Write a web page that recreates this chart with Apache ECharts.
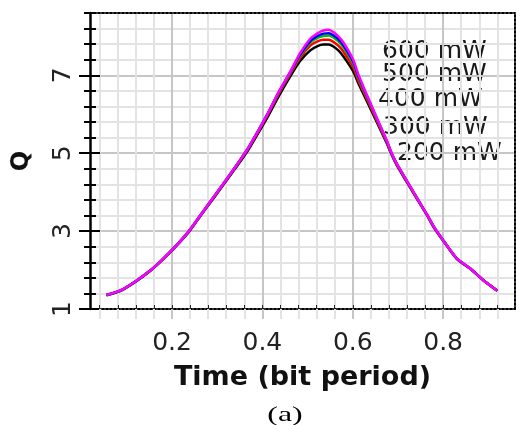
<!DOCTYPE html>
<html>
<head>
<meta charset="utf-8">
<script src="https://cdn.jsdelivr.net/npm/echarts@6/dist/echarts.min.js"></script>
<style>
html, body { margin: 0; padding: 0; background: #fff; }
#chart { width: 520px; height: 425px; }
</style>
</head>
<body>
<div id="chart"></div>
<script>
// time axis (bit period) and Q for each launch power
var time = [0.055, 0.085, 0.118, 0.151, 0.177, 0.207, 0.236, 0.258, 0.273, 0.295,
    0.325, 0.347, 0.369, 0.391, 0.413, 0.435, 0.461, 0.483, 0.506, 0.522,
    0.535, 0.547, 0.557, 0.568, 0.579, 0.601, 0.613, 0.631, 0.653, 0.675,
    0.686, 0.697, 0.720, 0.742, 0.764, 0.779, 0.804, 0.830, 0.860, 0.889, 0.920]
var q200 = [1.35, 1.46, 1.69, 1.97, 2.24, 2.59, 2.96, 3.31, 3.55, 3.89,
    4.37, 4.72, 5.09, 5.52, 5.96, 6.44, 6.96, 7.36, 7.64, 7.75,
    7.79, 7.79, 7.74, 7.64, 7.49, 7.10, 6.78, 6.34, 5.80, 5.26,
    4.96, 4.70, 4.25, 3.83, 3.41, 3.10, 2.69, 2.29, 2.03, 1.74, 1.47]
var q300 = [1.36, 1.47, 1.70, 1.98, 2.25, 2.60, 2.97, 3.32, 3.56, 3.91,
    4.39, 4.75, 5.12, 5.56, 6.01, 6.50, 7.02, 7.44, 7.76, 7.87,
    7.91, 7.91, 7.86, 7.76, 7.61, 7.20, 6.84, 6.40, 5.84, 5.28,
    4.98, 4.72, 4.27, 3.84, 3.42, 3.11, 2.70, 2.30, 2.04, 1.74, 1.47]
var q400 = [1.36, 1.47, 1.70, 1.98, 2.25, 2.60, 2.98, 3.33, 3.57, 3.92,
    4.40, 4.76, 5.14, 5.58, 6.04, 6.53, 7.05, 7.49, 7.84, 7.96,
    8.01, 8.02, 7.97, 7.87, 7.72, 7.30, 6.92, 6.45, 5.88, 5.31,
    4.99, 4.73, 4.28, 3.85, 3.43, 3.12, 2.70, 2.30, 2.04, 1.74, 1.47]
var q500 = [1.36, 1.47, 1.70, 1.98, 2.25, 2.60, 2.98, 3.33, 3.57, 3.92,
    4.40, 4.76, 5.14, 5.58, 6.04, 6.54, 7.07, 7.52, 7.88, 8.01,
    8.07, 8.08, 8.03, 7.93, 7.78, 7.35, 6.96, 6.48, 5.90, 5.32,
    5.00, 4.74, 4.28, 3.85, 3.43, 3.12, 2.70, 2.30, 2.04, 1.74, 1.47]
var q600 = [1.36, 1.47, 1.70, 1.98, 2.25, 2.60, 2.98, 3.33, 3.57, 3.92,
    4.40, 4.76, 5.14, 5.58, 6.04, 6.55, 7.08, 7.56, 7.94, 8.08,
    8.15, 8.17, 8.11, 8.00, 7.85, 7.40, 7.00, 6.50, 5.91, 5.33,
    5.00, 4.74, 4.28, 3.85, 3.43, 3.12, 2.70, 2.30, 2.04, 1.74, 1.47]

var powerNames = ['200 mW', '300 mW', '400 mW', '500 mW', '600 mW']
var xTickLabels = [0.2, 0.4, 0.6, 0.8]
var yTickLabels = [1, 3, 5, 7]

var myChart = echarts.init(document.getElementById('chart'))

var xMin = 0.0185, xMax = 0.959
var yMin = 1, yMax = 8.6

// minor grid positions
var xMinor = []
for (var i = 1; i <= 23; i++) {
    xMinor.push(i * 4 / 100)
}
var yMinor = []
for (var j = 0; j <= 19; j++) {
    yMinor.push(Math.round((1 + j * 0.4) * 10) / 10)
}

var lightGrid = '#e3e3e3'
var darkGrid = '#c6c6c6'
var font = 'DejaVu Sans'

var pairs = function(q) {
    return time.map(function(t, k) { return [t, q[k]] })
}

var lineSeries = function(name, q, color) {
    return {
        name: name,
        type: 'line',
        data: pairs(q),
        showSymbol: false,
        smooth: 0.25,
        lineStyle: { color: color, width: 2.5 },
        itemStyle: { color: color }
    }
}

var legendText = function(name, x, y) {
    return {
        type: 'text', x: x, y: y,
        style: { text: name, font: '25px "DejaVu Sans"', fill: '#1a1a1a', verticalAlign: 'middle' }
    }
}

var option = {
    animation: false,
    grid: { left: 90, right: 5, top: 13, bottom: 116, outerBoundsMode: 'none' },
    xAxis: [
        {
            type: 'value', min: xMin, max: xMax, position: 'bottom',
            axisLine: { lineStyle: { color: '#000', width: 2, type: 'dotted' } },
            axisTick: { customValues: xMinor, length: 10, lineStyle: { color: lightGrid, width: 2 } },
            axisLabel: {
                customValues: xTickLabels, margin: 22,
                fontFamily: font, fontSize: 25, color: '#222',
                formatter: function(v) { return v.toFixed(1) }
            },
            splitLine: {
                show: true,
                lineStyle: { color: [lightGrid, lightGrid, lightGrid, lightGrid, darkGrid], width: 2 }
            },
            name: 'Time (bit period)', nameLocation: 'middle', nameGap: 55,
            nameTextStyle: { fontFamily: font, fontWeight: 'bold', fontSize: 27, color: '#111' }
        },
        {
            type: 'value', min: xMin, max: xMax, position: 'bottom',
            axisLine: { show: false },
            axisTick: { customValues: xTickLabels, length: 10, lineStyle: { color: darkGrid, width: 2 } },
            axisLabel: { show: false },
            splitLine: { show: false }
        },
        {
            type: 'value', min: xMin, max: xMax, position: 'bottom',
            axisLine: { show: false },
            axisTick: { customValues: xMinor, inside: true, length: 4, lineStyle: { color: '#222', width: 1 } },
            axisLabel: { show: false },
            splitLine: { show: false }
        },
        {
            type: 'value', min: xMin, max: xMax, position: 'top',
            axisLine: { lineStyle: { color: '#000', width: 2, type: 'dotted' } },
            axisTick: { show: false },
            axisLabel: { show: false },
            splitLine: { show: false }
        }
    ],
    yAxis: [
        {
            type: 'value', min: yMin, max: yMax, position: 'left',
            axisLine: { lineStyle: { color: '#000', width: 2.5 } },
            axisTick: { customValues: yMinor, length: 6, lineStyle: { color: '#000', width: 2 } },
            axisLabel: {
                customValues: yTickLabels, rotate: 90, margin: 14,
                fontFamily: font, fontSize: 25, color: '#222'
            },
            splitLine: {
                show: true,
                lineStyle: { color: [darkGrid, lightGrid, lightGrid, lightGrid, lightGrid], width: 2 }
            },
            name: 'Q', nameLocation: 'middle', nameGap: 56, nameRotate: 90,
            nameTextStyle: { fontFamily: font, fontWeight: 'bold', fontSize: 24, color: '#111' }
        },
        {
            type: 'value', min: yMin, max: yMax, position: 'left',
            axisLine: { show: false },
            axisTick: { customValues: yMinor, inside: true, length: 6, lineStyle: { color: '#000', width: 2 } },
            axisLabel: { show: false },
            splitLine: { show: false }
        },
        {
            type: 'value', min: yMin, max: yMax, position: 'left',
            axisLine: { show: false },
            axisTick: { customValues: yTickLabels, length: 11, lineStyle: { color: '#000', width: 2 } },
            axisLabel: { show: false },
            splitLine: { show: false }
        },
        {
            type: 'value', min: yMin, max: yMax, position: 'left',
            axisLine: { show: false },
            axisTick: { customValues: yTickLabels, inside: true, length: 10, lineStyle: { color: '#000', width: 2 } },
            axisLabel: { show: false },
            splitLine: { show: false }
        },
        {
            type: 'value', min: yMin, max: yMax, position: 'right',
            axisLine: { lineStyle: { color: '#000', width: 2, type: 'dotted' } },
            axisTick: { show: false },
            axisLabel: { show: false },
            splitLine: { show: false }
        }
    ],
    series: [
        lineSeries(powerNames[0], q200, '#000000'),
        lineSeries(powerNames[1], q300, '#ff0000'),
        lineSeries(powerNames[2], q400, '#00c000'),
        lineSeries(powerNames[3], q500, '#0000ff'),
        lineSeries(powerNames[4], q600, '#ff00ff')
    ],
    graphic: [
        legendText(powerNames[4], 382, 51),
        legendText(powerNames[3], 382, 74),
        legendText(powerNames[2], 378, 99),
        legendText(powerNames[1], 383, 127),
        legendText(powerNames[0], 397, 153),
        {
            type: 'text', x: 285, y: 415, scaleX: 1.45, originX: 0, originY: 0,
            style: { text: '(a)', font: '22px "Liberation Serif"', fill: '#000', align: 'center', verticalAlign: 'middle' }
        }
    ]
}

myChart.setOption(option)
</script>
</body>
</html>
